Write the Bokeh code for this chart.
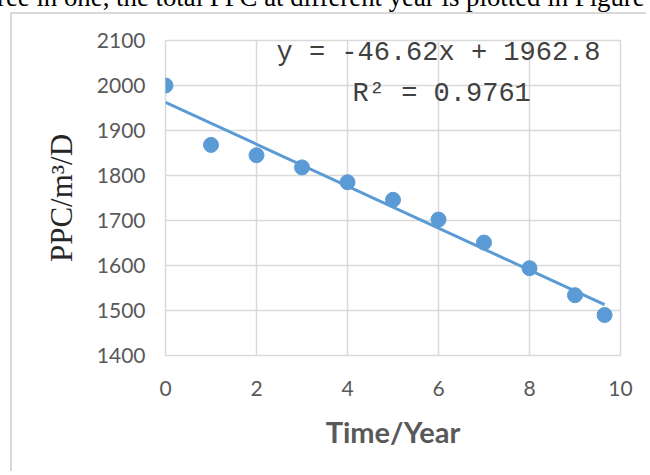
from bokeh.plotting import figure
from bokeh.models import Label, Range1d, FixedTicker, Div
from bokeh.layouts import column
from bokeh.embed import file_html
from bokeh.resources import INLINE

# ---- data ----
years = [0, 1, 2, 3, 4, 5, 6, 7, 8, 9, 9.65]
ppc = [2000, 1868, 1845, 1818, 1785, 1746, 1702, 1651, 1594, 1534, 1490]
slope = -46.62
intercept = 1962.8
eq_text = "y = -46.62x + 1962.8"
r2_text = "R² = 0.9761"
x_ticks = [0, 2, 4, 6, 8, 10]
y_ticks = [1400, 1500, 1600, 1700, 1800, 1900, 2000, 2100]
x_title = "Time/Year"
y_title = "PPC/m³/D"
doc_text = "ree in one, the total PPC at different year is plotted in Figure"

GRID = "#d9d9d9"
BLUE = "#5b9bd5"
TICK = "#595959"

p = figure(width=636, height=459,
           x_range=Range1d(0, 10), y_range=Range1d(1400, 2100),
           output_backend="svg", toolbar_location=None,
           min_border_left=153, min_border_right=28,
           min_border_top=26, min_border_bottom=118)
p.styles = {"border-top": "2px solid #d9d9d9", "border-left": "2px solid #d9d9d9",
            "margin-left": "10px", "margin-top": "-10px"}

p.outline_line_color = GRID
p.outline_line_width = 1.5
p.background_fill_color = "white"
p.border_fill_color = "white"

p.xaxis.ticker = FixedTicker(ticks=x_ticks)
p.yaxis.ticker = FixedTicker(ticks=y_ticks)
for ax in (p.xaxis, p.yaxis):
    ax.axis_line_color = None
    ax.major_tick_line_color = None
    ax.minor_tick_line_color = None
    ax.major_tick_out = 0
    ax.major_tick_in = 0
    ax.major_label_text_font = "Lato"
    ax.major_label_text_font_size = "21px"
    ax.major_label_text_color = TICK
    ax.major_label_standoff = 20
p.xaxis.major_label_standoff = 25

p.xaxis.axis_label = x_title
p.xaxis.axis_label_text_font = "Lato"
p.xaxis.axis_label_text_font_style = "bold"
p.xaxis.axis_label_text_font_size = "29px"
p.xaxis.axis_label_text_color = TICK
p.xaxis.axis_label_standoff = 15

p.yaxis.axis_label = y_title
p.yaxis.axis_label_text_font = "Liberation Serif"
p.yaxis.axis_label_text_font_style = "normal"
p.yaxis.axis_label_text_font_size = "31px"
p.yaxis.axis_label_text_color = "#262626"
p.yaxis.axis_label_standoff = 15

for g in (p.xgrid, p.ygrid):
    g.grid_line_color = GRID
    g.grid_line_width = 1.5
p.xgrid.ticker = FixedTicker(ticks=x_ticks)
p.ygrid.ticker = FixedTicker(ticks=y_ticks)

# trend line from the displayed equation
tx = [years[0], years[-1]]
ty = [slope * t + intercept for t in tx]
p.line(tx, ty, line_color=BLUE, line_width=3)
p.scatter(years, ppc, size=15, fill_color=BLUE, line_color=BLUE)

p.add_layout(Label(x=6.0, y=2073, text=eq_text, text_align="center", text_baseline="middle",
                   text_font="Liberation Mono", text_font_size="27px", text_color="#404040"))
p.add_layout(Label(x=6.07, y=1982, text=r2_text, text_align="center", text_baseline="middle",
                   text_font="Liberation Mono", text_font_size="27px", text_color="#404040"))

# the line of the surrounding document, cut by the top edge
doc = Div(text='<span style="position:relative; top:-23px; left:-8px; white-space:nowrap; '
               'font-family:\'Liberation Serif\'; font-size:26.8px; line-height:30px; color:black;">'
               + doc_text + '</span>',
          width=650, height=12)

root = column(doc, p, spacing=0)
open("out.html", "w").write(file_html(root, INLINE))
